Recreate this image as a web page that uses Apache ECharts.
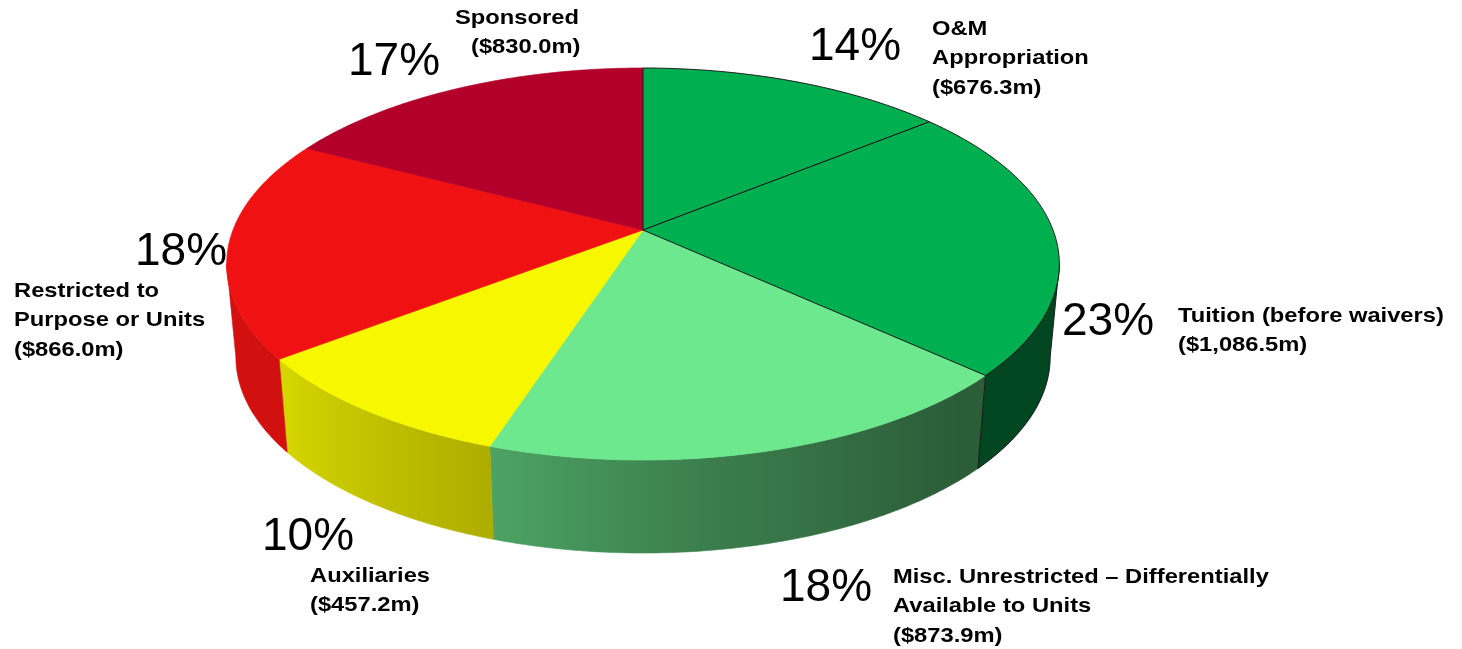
<!DOCTYPE html>
<html>
<head>
<meta charset="utf-8">
<script src="https://cdn.jsdelivr.net/npm/echarts@6/dist/echarts.min.js"></script>
<style>
  html, body { margin: 0; padding: 0; background: #ffffff; }
  #chart { width: 1462px; height: 649px; }
</style>
</head>
<body>
<div id="chart"></div>
<script>
// Revenue sources, $ millions
const categories = [
  'O&M\nAppropriation',
  'Tuition (before waivers)',
  'Misc. Unrestricted – Differentially\nAvailable to Units',
  'Auxiliaries',
  'Restricted to\nPurpose or Units',
  'Sponsored'
];
const amounts = [676.3, 1086.5, 873.9, 457.2, 866.0, 830.0];

// Styling per slice
const sliceColors = ['#00b050', '#00b050', '#6de88e', '#f7f700', '#f01212', '#b3002a'];
const outlinedSlices = [true, true, false, false, false, false];

// Label anchors: percentage (centre) and name block (left edge, first line centre)
const percentAnchors = [[855, 47], [1108, 322], [826, 588], [308, 537], [181, 252], [394, 62]];
const nameAnchors = [[932, 29], [1178, 316], [893, 577], [310, 576], [14, 291], [455, 18]];
const amountIndent = [0, 0, 0, 0, 0, 16];

const total = amounts.reduce((a, b) => a + b, 0);
const starts = [];
amounts.reduce((acc, v) => { starts.push(acc); return acc + v; }, 0);

// Tilted disc with a little perspective
const DISC = { cx: 643, cy: 230, rx: 410, ry: 190.1, persp: 0.1736, depth: 93, shrink: 0.978 };
const RAD = Math.PI / 180;
const WALL_FROM = Math.acos(-DISC.persp);        // right silhouette of the cylinder
const WALL_TO = 2 * Math.PI - WALL_FROM;         // left silhouette

// angle (clockwise from 12 o'clock) -> screen point on top or bottom rim
function rim(theta, bottom) {
  const s = Math.sin(theta), c = Math.cos(theta);
  const p = 1 / (1 + DISC.persp * c);
  let x = DISC.rx * s * p;
  let y = -DISC.ry * c * p;
  if (bottom) { x *= DISC.shrink; y += DISC.depth; }
  return [DISC.cx + x, DISC.cy + y];
}

// side-wall lighting, brighter on the left
const WALL_SHADE = [[100, 0.40], [140, 0.40], [172, 0.54], [198, 0.70], [232, 0.87], [260, 0.88]];
function shadeAt(deg) {
  if (deg <= WALL_SHADE[0][0]) return WALL_SHADE[0][1];
  for (let k = 1; k < WALL_SHADE.length; k++) {
    const [d1, f1] = WALL_SHADE[k], [d0, f0] = WALL_SHADE[k - 1];
    if (deg <= d1) return f0 + (f1 - f0) * (deg - d0) / (d1 - d0);
  }
  return WALL_SHADE[WALL_SHADE.length - 1][1];
}
function shadeColor(hex, f) {
  const n = parseInt(hex.slice(1), 16);
  const r = Math.round(((n >> 16) & 255) * f);
  const g = Math.round(((n >> 8) & 255) * f);
  const b = Math.round((n & 255) * f);
  return 'rgb(' + r + ',' + g + ',' + b + ')';
}

function renderSlice(params, api) {
  const i = params.dataIndex;
  const value = api.value(0);
  const a0 = starts[i] / total * 2 * Math.PI;
  const a1 = a0 + value / total * 2 * Math.PI;
  const base = sliceColors[i];
  const outlined = outlinedSlices[i];
  const children = [];

  // visible side wall, one shape with a horizontal light gradient
  const w0 = Math.max(a0, WALL_FROM), w1 = Math.min(a1, WALL_TO);
  if (w1 > w0) {
    const n = Math.max(2, Math.ceil((w1 - w0) / (0.5 * RAD)));
    const edge = [];
    for (let k = 0; k <= n; k++) edge.push(rim(w0 + (w1 - w0) * k / n, false));
    for (let k = n; k >= 0; k--) edge.push(rim(w0 + (w1 - w0) * k / n, true));
    // x decreases as the angle grows across the front of the disc
    const xRight = rim(w0, false)[0], xLeft = rim(w1, false)[0];
    const span = Math.max(1, xRight - xLeft);
    const stops = [];
    const ns = 12;
    for (let k = 0; k <= ns; k++) {
      const t = w1 - (w1 - w0) * k / ns;           // from left edge to right edge
      const x = rim(t, false)[0];
      stops.push({
        offset: Math.min(1, Math.max(0, (x - xLeft) / span)),
        color: shadeColor(base, shadeAt(t / RAD))
      });
    }
    const grad = new echarts.graphic.LinearGradient(xLeft, 0, xRight, 0, stops, true);
    children.push({
      type: 'polygon',
      shape: { points: edge },
      style: outlined
        ? { fill: grad, stroke: '#1a1a1a', lineWidth: 1, lineJoin: 'round' }
        : { fill: grad, stroke: grad, lineWidth: 0.6 },
      z2: outlined ? 3 : 1
    });
  }

  // top face
  const pts = [[DISC.cx, DISC.cy]];
  const m = Math.max(2, Math.ceil((a1 - a0) / (0.5 * RAD)));
  for (let k = 0; k <= m; k++) pts.push(rim(a0 + (a1 - a0) * k / m, false));
  children.push({
    type: 'polygon',
    shape: { points: pts },
    style: outlined
      ? { fill: base, stroke: '#1a1a1a', lineWidth: 1, lineJoin: 'round' }
      : { fill: base, stroke: base, lineWidth: 0.7 },
    z2: outlined ? 6 : 4
  });

  return { type: 'group', children: children };
}

function fmtAmount(v) {
  return '($' + v.toLocaleString('en-US', { minimumFractionDigits: 1, maximumFractionDigits: 1 }) + 'm)';
}

const labelGraphics = [];
amounts.forEach((v, i) => {
  const pct = Math.round(v / total * 100) + '%';
  labelGraphics.push({
    type: 'text',
    x: percentAnchors[i][0], y: percentAnchors[i][1],
    style: {
      text: pct, fill: '#000000',
      font: '46px "Liberation Sans", Arial, sans-serif',
      textAlign: 'center', textVerticalAlign: 'middle'
    }
  });
  const lines = categories[i].split('\n').concat([fmtAmount(v)]);
  lines.forEach((line, k) => {
    const isAmount = k === lines.length - 1;
    labelGraphics.push({
      type: 'text',
      x: nameAnchors[i][0] + (isAmount ? amountIndent[i] : 0),
      y: nameAnchors[i][1] + k * 29.5,
      scaleX: 1.13,
      style: {
        text: line, fill: '#000000',
        font: 'bold 21px "Liberation Sans", Arial, sans-serif',
        textAlign: 'left', textVerticalAlign: 'middle'
      }
    });
  });
});

const chart = echarts.init(document.getElementById('chart'), null, { renderer: 'canvas' });
chart.setOption({
  backgroundColor: '#ffffff',
  animation: false,
  series: [{
    type: 'custom',
    coordinateSystem: 'none',
    renderItem: renderSlice,
    data: amounts.map(v => [v])
  }],
  graphic: labelGraphics
});
</script>
</body>
</html>
